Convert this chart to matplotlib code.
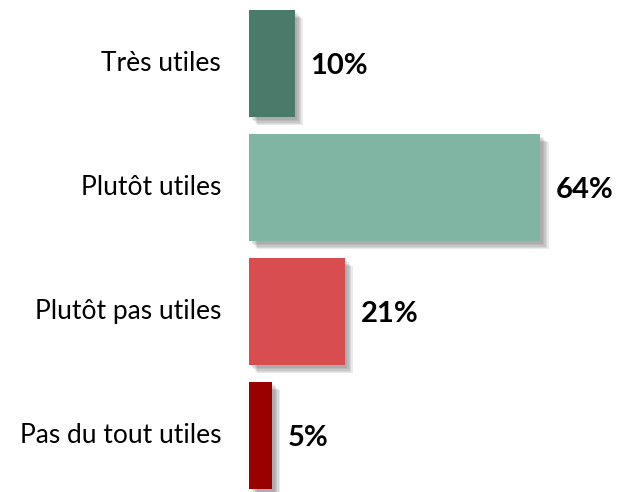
import matplotlib
matplotlib.use("Agg")
import matplotlib.pyplot as plt
import matplotlib.patheffects as pe

categories = ["Très utiles", "Plutôt utiles", "Plutôt pas utiles", "Pas du tout utiles"]
values = [10, 64, 21, 5]
colors = ["#4A7A69", "#80B5A3", "#D84D50", "#990000"]

PX = 4.55  # pixels per percent point
fig = plt.figure(figsize=(6.2, 4.92), dpi=100)
ax = fig.add_axes([249 / 620, 0, 371 / 620, 1])

pos = list(range(len(categories)))
bars = ax.barh(pos, values, height=107 / 124, color=colors, zorder=2)
# soft drop shadow: a few stacked translucent offsets
shadow = [pe.SimplePatchShadow(offset=(d, -d), shadow_rgbFace="#555555", alpha=0.12) for d in (6, 5, 4, 3, 2)]
for b in bars:
    b.set_path_effects(shadow + [pe.Normal()])

xmax = 371 / PX
ax.set_ylim(3.456, -0.512)
ax.set_xlim(0, xmax)
ax.axis("off")

for p, v, c in zip(pos, values, categories):
    x = v + 16 / PX
    if x + 60 / PX > xmax:  # keep the label inside the figure
        ax.text(xmax - 8 / PX, p + 0.02, f"{v}%", ha="right", va="center",
                fontsize=21, fontweight="bold", family="Lato")
    else:
        ax.text(x, p + 0.02, f"{v}%", ha="left", va="center",
                fontsize=21, fontweight="bold", family="Lato")
    ax.text(-28 / PX, p, c, ha="right", va="center", fontsize=19, family="Lato")

fig.savefig("out.png", dpi=100)
